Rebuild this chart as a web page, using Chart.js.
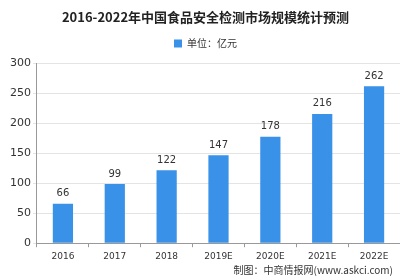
<!DOCTYPE html>
<html><head><meta charset="utf-8">
<script src="https://cdn.jsdelivr.net/npm/chart.js@4/dist/chart.umd.min.js"></script>
<style>html,body{margin:0;padding:0;background:#fff;overflow:hidden}#wrap{width:400px;height:280px}</style>
</head><body><div id="wrap"><canvas id="c" width="400" height="280"></canvas></div>
<script>
const categories = ["2016","2017","2018","2019E","2020E","2021E","2022E"];
const values = [66,99,122,147,178,216,262];
const yTicks = [0,50,100,150,200,250,300];
const seriesName = "单位：亿元";
const titleText = "2016-2022年中国食品安全检测市场规模统计预测";
const sourceText = "制图：中商情报网(www.askci.com)";

const labelPlugin = {
  id:'vals',
  afterDatasetsDraw(chart){
    const ctx = chart.ctx;
    const meta = chart.getDatasetMeta(0);
    ctx.save();
    ctx.font = '10px "DejaVu Sans", sans-serif';
    ctx.fillStyle = '#333';
    ctx.textAlign = 'center';
    ctx.textBaseline = 'middle';
    meta.data.forEach((bar,i)=>{
      ctx.fillText(String(values[i]), bar.x, bar.y - 10);
    });
    ctx.restore();
  }
};
const sourcePlugin = {
  id:'src',
  afterDraw(chart){
    const ctx = chart.ctx;
    ctx.save();
    ctx.font = '10px "Noto Sans CJK SC", sans-serif';
    ctx.fillStyle = '#333';
    ctx.textAlign = 'right';
    ctx.textBaseline = 'middle';
    ctx.fillText(sourceText, 393, 270);
    ctx.restore();
  }
};
const legendSpace = {
  id:'legendSpace',
  beforeInit(chart){
    const lg = chart.legend;
    if(lg && !lg._wrapped){
      const f = lg.fit;
      lg.fit = function(){ f.call(this); this.height += 5; };
      lg._wrapped = true;
    }
  }
};

new Chart(document.getElementById('c'),{
  type:'bar',
  data:{labels:categories,datasets:[{label:seriesName,data:values,backgroundColor:'#3a91e8',barPercentage:0.78,categoryPercentage:0.5}]},
  options:{
    responsive:false,animation:false,
    layout:{padding:{left:8,right:-3,top:1,bottom:14}},
    plugins:{
      title:{display:true,text:titleText,color:'#222',font:{family:'"Noto Sans CJK SC", sans-serif',size:13,weight:'bold'},padding:{top:8,bottom:1}},
      legend:{display:true,labels:{boxWidth:8,boxHeight:8,color:'#333',font:{family:'"Noto Sans CJK SC", sans-serif',size:10},padding:13}},
      tooltip:{enabled:false}
    },
    scales:{
      x:{
        grid:{display:true,drawOnChartArea:false,drawTicks:true,tickLength:4,color:'#999',offset:true},
        border:{display:true,color:'#999'},
        ticks:{color:'#333',font:{family:'"DejaVu Sans", sans-serif',size:9},padding:4}
      },
      y:{
        min:0,max:300,
        afterBuildTicks(axis){axis.ticks = yTicks.map(v=>({value:v}));},
        grid:{color:'#e4e4e4',tickLength:4,drawTicks:true},
        border:{display:true,color:'#999'},
        ticks:{color:'#333',font:{family:'"DejaVu Sans", sans-serif',size:11},padding:2}
      }
    }
  },
  plugins:[legendSpace,labelPlugin,sourcePlugin]
});
</script></body></html>
